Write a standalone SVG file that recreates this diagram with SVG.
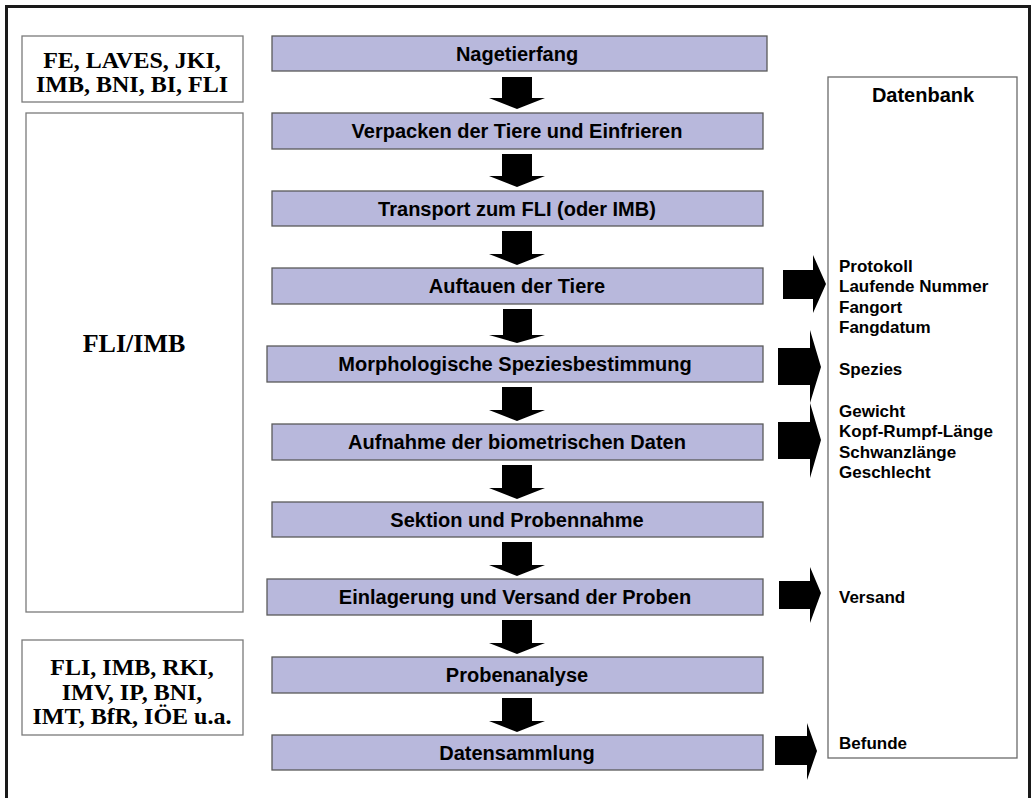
<svg xmlns="http://www.w3.org/2000/svg" width="1033" height="798" viewBox="0 0 1033 798">
<style>
.frame{fill:#fff;stroke:#1a1a1a;stroke-width:3}
.lbox{fill:#fff;stroke:#7a7a7a;stroke-width:1.3}
.step{fill:#b8b8dc;stroke:#5a5a5a;stroke-width:1.3}
.db{fill:#fff;stroke:#6a6a6a;stroke-width:1.3}
.arr{fill:#000}
.ser{font-family:"Liberation Serif","Times New Roman",serif;font-weight:bold;fill:#000;text-anchor:middle}
.st{font-family:"Liberation Sans",Arial,sans-serif;font-weight:bold;font-size:20px;fill:#000;text-anchor:middle}
.dt{font-family:"Liberation Sans",Arial,sans-serif;font-weight:bold;font-size:17px;fill:#000}
.dh{font-family:"Liberation Sans",Arial,sans-serif;font-weight:bold;font-size:20px;fill:#000;text-anchor:middle}
</style>
<rect width="1033" height="798" fill="#fff"/>
<rect class="frame" x="6.5" y="6.5" width="1023" height="800"/>

<g id="org-top">
<rect class="lbox" x="22" y="36" width="221" height="66"/>
<text class="ser" font-size="24" x="132" y="68">FE, LAVES, JKI,</text>
<text class="ser" font-size="24" x="132" y="92">IMB, BNI, BI, FLI</text>
</g>
<g id="org-mid">
<rect class="lbox" x="26" y="113" width="217" height="499"/>
<text class="ser" font-size="26" x="134" y="352">FLI/IMB</text>
</g>
<g id="org-bottom">
<rect class="lbox" x="22" y="640" width="221" height="95"/>
<text class="ser" font-size="24" x="132" y="675">FLI, IMB, RKI,</text>
<text class="ser" font-size="24" x="132" y="700">IMV, IP, BNI,</text>
<text class="ser" font-size="24" x="132" y="724">IMT, BfR, IÖE u.a.</text>
</g>

<g id="s1"><rect class="step" x="272" y="36" width="495" height="35"/><text class="st" x="517" y="61">Nagetierfang</text></g>
<g id="s2"><rect class="step" x="272" y="113" width="491" height="36"/><text class="st" x="517" y="138">Verpacken der Tiere und Einfrieren</text></g>
<g id="s3"><rect class="step" x="272" y="191" width="491" height="35"/><text class="st" x="517" y="216">Transport zum FLI (oder IMB)</text></g>
<g id="s4"><rect class="step" x="272" y="268" width="491" height="36"/><text class="st" x="517" y="293">Auftauen der Tiere</text></g>
<g id="s5"><rect class="step" x="267" y="346" width="496" height="36"/><text class="st" x="515" y="371">Morphologische Speziesbestimmung</text></g>
<g id="s6"><rect class="step" x="272" y="424" width="491" height="36"/><text class="st" x="517" y="449">Aufnahme der biometrischen Daten</text></g>
<g id="s7"><rect class="step" x="272" y="502" width="491" height="35"/><text class="st" x="517" y="527">Sektion und Probennahme</text></g>
<g id="s8"><rect class="step" x="267" y="579" width="496" height="36"/><text class="st" x="515" y="604">Einlagerung und Versand der Proben</text></g>
<g id="s9"><rect class="step" x="272" y="657" width="491" height="36"/><text class="st" x="517" y="682">Probenanalyse</text></g>
<g id="s10"><rect class="step" x="272" y="735" width="491" height="35"/><text class="st" x="517" y="760">Datensammlung</text></g>

<g id="datenbank">
<rect class="db" x="828" y="77" width="189" height="681"/>
<text class="dh" x="923" y="102">Datenbank</text>
<text class="dt" x="839" y="272">Protokoll</text>
<text class="dt" x="839" y="292">Laufende Nummer</text>
<text class="dt" x="839" y="313">Fangort</text>
<text class="dt" x="839" y="333">Fangdatum</text>
<text class="dt" x="839" y="375">Spezies</text>
<text class="dt" x="839" y="417">Gewicht</text>
<text class="dt" x="839" y="437">Kopf-Rumpf-Länge</text>
<text class="dt" x="839" y="458">Schwanzlänge</text>
<text class="dt" x="839" y="478">Geschlecht</text>
<text class="dt" x="839" y="603">Versand</text>
<text class="dt" x="839" y="749">Befunde</text>
</g>

<g id="connectors">
<path class="arr" d="M502 77H532V98H545L517 109L489 98H502Z"/>
<path class="arr" d="M502 154H532V176H545L517 187L489 176H502Z"/>
<path class="arr" d="M502 231H532V254H545L517 265L489 254H502Z"/>
<path class="arr" d="M503 309H532V335H545L517 343L489 335H503Z"/>
<path class="arr" d="M502 387H532V410H545L517 421L489 410H502Z"/>
<path class="arr" d="M502 465H532V488H545L517 499L489 488H502Z"/>
<path class="arr" d="M502 542H532V565H545L517 576L489 565H502Z"/>
<path class="arr" d="M502 620H532V643H545L517 654L489 643H502Z"/>
<path class="arr" d="M502 698H532V721H545L517 732L489 721H502Z"/>

<path class="arr" d="M783 270H813V255L826 284L813 313V299H783Z"/>
<path class="arr" d="M778 348H810V330L821 367L810 403V385H778Z"/>
<path class="arr" d="M778 422H810V403L821 440L810 478V459H778Z"/>
<path class="arr" d="M779 581H810V567L821 593L810 623V609H779Z"/>
<path class="arr" d="M775 736H807V723L817 751L807 780V765H775Z"/>
</g>
</svg>
